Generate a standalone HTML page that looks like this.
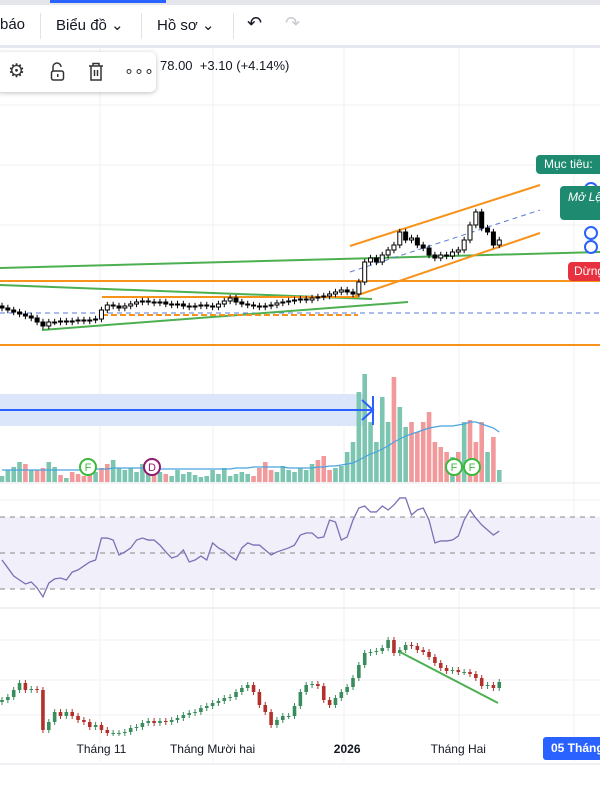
<!DOCTYPE html>
<html><head><meta charset="utf-8"><style>
body{margin:0;width:600px;height:800px;overflow:hidden;background:#fff;font-family:"Liberation Sans","Noto Sans CJK SC",sans-serif}
svg{position:absolute;left:0;top:0}
.tb{position:absolute;top:5px;left:0;width:600px;height:40px;border-bottom:3px solid #e6e8f0;background:#fff}
.tb span{position:absolute;top:11px;font-size:15px;color:#131722}
.sep{position:absolute;top:8px;width:1px;height:26px;background:#e0e3eb}
.ft{position:absolute;left:-4px;top:52px;width:160px;height:40px;background:#fff;border-radius:6px;box-shadow:0 1px 5px rgba(0,0,0,.25)}
</style></head><body>
<svg width="600" height="800">
<g id="grid" stroke="#f0f1f4" stroke-width="1"></g>
<g id="main"></g>
<g id="vol"></g>
<g id="rsi"></g>
<g id="bot"></g>
</svg>
<div style="position:absolute;top:0;left:0;width:600px;height:5px;background:#e4e6ec"><div style="position:absolute;left:50px;width:116px;height:3px;top:0;background:#2962ff"></div></div>
<div class="tb">
<span style="left:0">báo</span>
<div class="sep" style="left:40px"></div>
<span style="left:56px">Biểu đồ ⌄</span>
<div class="sep" style="left:141px"></div>
<span style="left:157px">Hồ sơ ⌄</span>
<div class="sep" style="left:233px"></div>
<span style="left:247px;font-size:18px;top:8px">↶</span>
<span style="left:285px;font-size:18px;top:8px;color:#c8cad0">↷</span>
</div>
<div class="ft">
<span style="position:absolute;left:12px;top:8px;font-size:19px;color:#333">⚙</span>
<svg style="position:absolute;left:54px;top:10px" width="16" height="20"><path d="M3 9 V5 a4 4 0 0 1 8 0" fill="none" stroke="#333" stroke-width="1.5"/><rect x="1.5" y="9" width="12" height="9" rx="2" fill="none" stroke="#333" stroke-width="1.5"/><rect x="7" y="12" width="1.5" height="3" fill="#333"/></svg>
<svg style="position:absolute;left:92px;top:10px" width="16" height="20"><path d="M1 4 H15 M5 4 V1.5 H11 V4 M3 4 V18 H13 V4 M6.5 8 V14 M9.5 8 V14" fill="none" stroke="#333" stroke-width="1.5"/></svg>
<span style="position:absolute;left:128px;top:9px;font-size:16px;color:#333">∘∘∘</span>
</div>
<div style="position:absolute;left:160px;top:58px;font-size:13px;color:#131722">78.00&nbsp; +3.10 (+4.14%)</div>
<div style="position:absolute;left:536px;top:155px;width:70px;height:19px;background:#1e8a6f;border-radius:4px;color:#fff;font-size:12px;line-height:19px;padding-left:8px">Mục tiêu:</div>
<div style="position:absolute;left:560px;top:186px;width:50px;height:34px;background:#1e8a6f;border-radius:4px;color:#fff;font-size:12px;font-style:italic;padding:4px 0 0 8px;box-sizing:border-box">Mở Lệ</div>
<div style="position:absolute;left:568px;top:262px;width:40px;height:19px;background:#e8313f;border-radius:4px;color:#fff;font-size:12px;line-height:19px;padding-left:6px">Dừng</div>
<div style="position:absolute;left:543px;top:737px;width:70px;height:23px;background:#2962ff;border-radius:3px;color:#fff;font-size:12px;font-weight:bold;line-height:23px;padding-left:8px">05 Tháng</div>
<script>
const mainClose=[73,72.5,72,71.5,71,70.5,69.5,68.5,
69.5,69.5,69.75,69.5,69.75,70,69.75,70,70.25,
72.5,73.75,73.5,73,73.5,74,74.5,74.75,74.5,74.25,74.5,74,73.75,74,
73.5,73.25,73.5,73.75,73.5,73.25,74,74.75,75.5,74.5,74,73.75,73.5,73.25,73.5,
73.75,74.25,74.5,74.75,75,75.25,75,75.5,75.75,76,76.5,77,77.5,
77,76.5,79.5,84.5,
85.5,84.5,86.25,87.5,88.75,92,90,90.5,
88.75,88,86.25,85.5,86.25,86,87,87.5,
90,93.75,97,93,92,88.75,90];
const volume=[6,12,15,20,18,12,12,14,20,15,7,4,10,8,6,12,10,
14,18,22,14,12,14,10,18,8,12,10,8,6,12,
8,10,7,5,6,12,8,14,6,8,10,8,6,14,20,
12,10,16,12,10,14,12,18,22,26,12,14,16,
30,40,90,108,
60,40,85,60,105,75,55,60,
50,60,70,40,35,30,25,30,
60,62,40,60,30,45,12];
const volumeMA=[12,12,12,12,12,12,12,12,12,12,12,12,12,12,12,12,13,
13,13,14,14,14,14,14,14,13,13,13,13,13,13,
13,13,13,13,13,13,13,13,13,14,14,14,15,15,15,
15,15,15,14,14,14,14,14,15,15,16,16,17,
18,19,22,25,
28,30,33,36,40,43,46,48,
50,52,54,55,56,56,56,57,
58,60,60,58,56,54,50];
const rsi=[46.1,41.7,37.2,35,32.8,33.9,30.6,25.6,33.3,35.6,36.1,35,39.4,40.6,42.8,45,46.1,58.3,58.3,57.2,48.9,50.6,52.8,57.2,58.3,57.2,57.2,54.4,50.6,47.2,48.3,51.7,45,46.1,48.3,46.1,55.6,52.8,51.1,48.3,46.1,52.8,55.6,54.4,54.4,51.7,48.9,50.6,51.7,52.8,54.4,60,61.1,61.1,58.3,58.9,68.3,67.2,57.2,58.9,68.3,75,76.1,72.8,72.8,76.1,73.9,76.7,80.6,80.6,71.1,73.9,75,68.3,55.6,56.7,56.7,57.2,59.4,68.3,73.9,69.4,65.6,62.8,60,62.2];
const botClose=[30,31.5,35,38.5,35,35.5,35,15,19,24,22,24,22,20,19,16.5,17.5,15,13.5,13.5,13.5,14,16,16.5,18.5,19.5,18.5,19.5,19,20,21,22.5,23.5,24,26,27,28.5,29.5,31,31.5,34,36,37.5,34,27.5,24,17.5,20,22,22,27,34,37.5,38,37,30,27.5,31,34,36.5,41,47.5,53.5,54,54.5,56,60,53.5,55,57.5,57,55,54,51.5,48.5,46,44.5,45,44,44,43,41,37,37.5,36,39];
const timeLabels=[{t:"Tháng 11",i:17},{t:"Tháng Mười hai",i:36},{t:"2026",i:59},{t:"Tháng Hai",i:78}];

const NS="http://www.w3.org/2000/svg";
const xAt=i=>2+i*5.85;
const yMain=p=>200+(100-p)*4;
const yVol=v=>482-v;
const yRsi=r=>517+(70-r)*1.8;
const yBot=b=>760-2*b;
function mk(tag,attrs,parent){const e=document.createElementNS(NS,tag);for(const k in attrs)e.setAttribute(k,attrs[k]);parent.appendChild(e);return e;}
const G=document.getElementById('grid'),M=document.getElementById('main'),V=document.getElementById('vol'),R=document.getElementById('rsi'),B=document.getElementById('bot');
[100,213,344,459,574].forEach(x=>{const l=mk('line',{x1:x,x2:x,y1:46,y2:762},G);});
[105,165,225,500,640,680,715].forEach(y=>{const l=mk('line',{x1:0,x2:600,y1:y,y2:y},G);});
const dr=[[0,281,600,281,'#f7931a',2,''],[0,345,600,345,'#f7931a',2,''],[0,313,600,313,'#5b7bd5',1,'5,4'],
[0,268,600,252,'#4caf50',2,''],[0,285,372,299,'#4caf50',2,''],[42,330,408,302,'#4caf50',2,''],
[102,297,358,297,'#f7931a',2,''],[102,315,358,315,'#f7931a',2,'6,3'],
[350,246,540,185,'#f7931a',2,''],[355,296,540,233,'#f7931a',2,''],[350,272,540,210,'#5b7bd5',1,'5,4']];
dr.forEach(d=>{const l=mk('line',{x1:d[0],y1:d[1],x2:d[2],y2:d[3],stroke:d[4],'stroke-width':d[5],'stroke-dasharray':d[6]},M);});
[[591,189],[591,233],[591,247]].forEach(c=>{const e=mk('circle',{cx:c[0],cy:c[1],r:6,fill:'#fff',stroke:'#2962ff','stroke-width':2},M);});
mainClose.forEach((c,i)=>{const o=i?mainClose[i-1]:c+0.5;const x=xAt(i);const up=c>=o;
 const l=mk('line',{x1:x,x2:x,y1:yMain(Math.max(o,c)+0.8),y2:yMain(Math.min(o,c)-0.8),stroke:'#000','stroke-width':1},M);
 const h=Math.max(1,Math.abs(yMain(o)-yMain(c)));
 const r=mk('rect',{x:x-2,y:Math.min(yMain(o),yMain(c)),width:4,height:h,fill:up?'#fff':'#000',stroke:'#000','stroke-width':1},M);});
const band=mk('rect',{x:0,y:394,width:365,height:32,fill:'#dbe6fb'},V);
volume.forEach((v,i)=>{const up=i?botClose[i]>=botClose[i-1]:true;const r=mk('rect',{x:xAt(i)-2.3,y:yVol(v),width:4.6,height:v,fill:up?'#7cc5b1':'#f2999b'},V);});
const vm=mk('polyline',{points:volumeMA.map((v,i)=>xAt(i)+','+yVol(v)).join(' '),fill:'none',stroke:'#4aa3df','stroke-width':1.2},V);
const ar=mk('path',{d:'M0 410 H373 M362 400 L373 410 L362 420 M373 396 V425',stroke:'#2962ff','stroke-width':2,fill:'none'},V);
[[88,'F','#3cb93c'],[152,'D','#8e1b6e'],[454,'F','#3cb93c'],[472,'F','#3cb93c']].forEach(m=>{const c=mk('circle',{cx:m[0],cy:467,r:8,fill:'#fff',stroke:m[2],'stroke-width':2},V);
 const t=mk('text',{x:m[0],y:471,'text-anchor':'middle','font-size':11,fill:m[2],'font-family':'Liberation Sans'},V);t.textContent=m[1];});
const rb=mk('rect',{x:0,y:yRsi(70),width:600,height:yRsi(30)-yRsi(70),fill:'#f1eff9'},R);
[70,50,30].forEach(v=>{const l=mk('line',{x1:0,x2:600,y1:yRsi(v),y2:yRsi(v),stroke:'#888','stroke-dasharray':'5,5'},R);});
const sl=mk('line',{x1:0,x2:600,y1:608,y2:608,stroke:'#e0e3eb'},R);
const sl2=mk('line',{x1:0,x2:600,y1:483,y2:483,stroke:'#e8e9ee'},R);
const rl=mk('polyline',{points:rsi.map((v,i)=>xAt(i)+','+yRsi(v)).join(' '),fill:'none',stroke:'#7e6fb5','stroke-width':1.3},R);
botClose.forEach((c,i)=>{const o=i?botClose[i-1]:c-1;const x=xAt(i);const up=c>=o;const col=up?'#3a8c5c':'#b3312d';
 const l=mk('line',{x1:x,x2:x,y1:yBot(Math.max(o,c)+1.5),y2:yBot(Math.min(o,c)-1.5),stroke:col,'stroke-width':1},B);
 const r=mk('rect',{x:x-1.8,y:Math.min(yBot(o),yBot(c)),width:3.6,height:Math.max(1,Math.abs(yBot(o)-yBot(c))),fill:col},B);});
const gl=mk('line',{x1:400,y1:652,x2:498,y2:703,stroke:'#4caf50','stroke-width':2},B);
const ax=mk('line',{x1:0,x2:600,y1:764,y2:764,stroke:'#e0e3eb'},B);
timeLabels.forEach(t=>{const e=mk('text',{x:xAt(t.i),y:753,'text-anchor':'middle','font-size':12,fill:'#131722','font-weight':t.t==='2026'?'bold':'normal','font-family':'Liberation Sans'},B);e.textContent=t.t;});
</script>
</body></html>
